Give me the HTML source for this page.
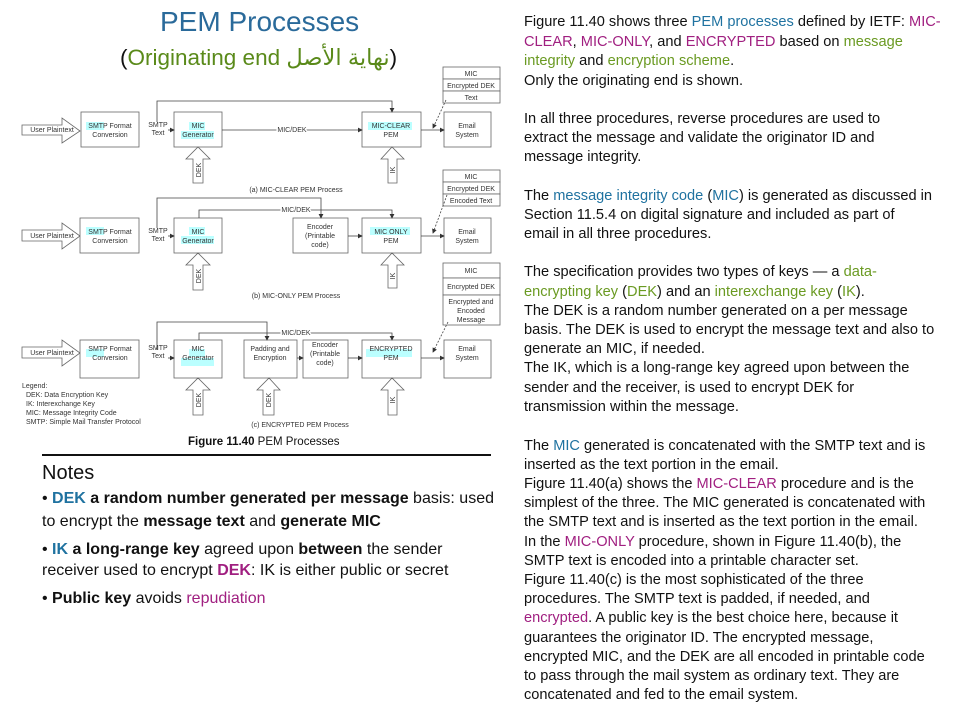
<!DOCTYPE html>
<html><head><meta charset="utf-8"><style>
body{margin:0;background:#fff;}
#p{position:relative;width:960px;height:720px;overflow:hidden;font-family:"Liberation Sans",sans-serif;color:#111;}
.r{position:absolute;left:524px;font-size:14.6px;white-space:nowrap;line-height:16px;}
.n{position:absolute;left:42px;font-size:16px;white-space:nowrap;line-height:18px;}
.b{color:#1f72a0}.m{color:#a01f80}.g{color:#6a9a22}
svg text{font-family:"Liberation Sans",sans-serif;}
</style></head><body><div id="p">
<div style="position:absolute;left:160px;top:6px;font-size:28px;color:#2a6a9a;">PEM Processes</div>
<div style="position:absolute;left:120px;top:45px;font-size:22.5px;color:#5a8a1a;font-family:'Liberation Sans','DejaVu Sans',sans-serif;white-space:nowrap;"><span style="color:#111">(</span>Originating end <span dir="rtl">نهاية الأصل</span><span style="color:#111">)</span></div>

<svg width="510" height="460" style="position:absolute;left:0;top:0" font-size="7">
<defs><marker id="a" markerWidth="6" markerHeight="6" refX="5" refY="3" orient="auto"><path d="M0,0L6,3L0,6z" fill="#333"/></marker></defs>
<g fill="#fff" stroke="#666" stroke-width="0.8">
<path d="M22,125H62V118L80,131L62,143V135H22Z"/>
<rect x="81" y="112" width="58" height="35"/><rect x="174" y="112" width="48" height="35"/>
<rect x="362" y="112" width="59" height="35"/><rect x="444" y="112" width="47" height="35"/>
<path d="M193,183V159H186L198,147L210,159H203V183Z"/><path d="M388,183V159H381L392,147L404,159H397V183Z"/>
<rect x="443" y="67" width="57" height="12"/><rect x="443" y="79" width="57" height="12"/><rect x="443" y="91" width="57" height="12"/>
<path d="M22,230H62V223L80,236L62,249V241H22Z"/>
<rect x="80" y="218" width="59" height="35"/><rect x="174" y="218" width="48" height="35"/>
<rect x="293" y="218" width="55" height="35"/><rect x="362" y="218" width="59" height="35"/><rect x="444" y="218" width="47" height="35"/>
<path d="M193,290V265H186L198,253L210,265H203V290Z"/><path d="M388,288V265H381L392,253L404,265H397V288Z"/>
<rect x="443" y="170" width="57" height="12"/><rect x="443" y="182" width="57" height="12"/><rect x="443" y="194" width="57" height="12"/>
<path d="M22,347H62V340L80,353L62,366V358H22Z"/>
<rect x="80" y="340" width="59" height="38"/><rect x="174" y="340" width="48" height="38"/>
<rect x="244" y="340" width="53" height="38"/><rect x="303" y="340" width="45" height="38"/>
<rect x="362" y="340" width="59" height="38"/><rect x="444" y="340" width="47" height="38"/>
<path d="M193,415V390H186L198,378L210,390H203V415Z"/><path d="M263,415V390H257L269,378L280,390H274V415Z"/><path d="M388,415V390H381L392,378L404,390H397V415Z"/>
<rect x="443" y="263" width="57" height="15"/><rect x="443" y="278" width="57" height="17"/><rect x="443" y="295" width="57" height="30"/>
</g>
<g fill="#bff" stroke="none">
<rect x="86" y="122" width="18" height="8"/><rect x="189" y="122" width="16" height="8"/><rect x="181" y="131" width="33" height="8"/><rect x="368" y="122" width="44" height="8"/>
<rect x="86" y="227" width="18" height="8"/><rect x="189" y="227" width="16" height="8"/><rect x="181" y="236" width="33" height="8"/><rect x="370" y="227" width="40" height="8"/>
<rect x="86" y="349" width="18" height="8"/><rect x="189" y="349" width="16" height="8"/><rect x="181" y="358" width="33" height="8"/><rect x="366" y="349" width="46" height="8"/>
</g>
<g fill="none" stroke="#444" stroke-width="0.8">
<path d="M168,130H174" marker-end="url(#a)"/><path d="M222,130H362" marker-end="url(#a)"/><path d="M421,130H444" marker-end="url(#a)"/>
<path d="M157,122V101H392V112" marker-end="url(#a)"/>
<path d="M446,100L433,128" stroke-dasharray="2,1.5" marker-end="url(#a)"/>
<path d="M168,236H174" marker-end="url(#a)"/><path d="M348,236H362" marker-end="url(#a)"/><path d="M421,236H444" marker-end="url(#a)"/>
<path d="M157,228V198H321V218" marker-end="url(#a)"/><path d="M199,218V210H392V218" marker-end="url(#a)"/>
<path d="M447,195L433,233" stroke-dasharray="2,1.5" marker-end="url(#a)"/>
<path d="M168,358H174" marker-end="url(#a)"/><path d="M297,358H303" marker-end="url(#a)"/><path d="M348,358H362" marker-end="url(#a)"/><path d="M421,358H444" marker-end="url(#a)"/>
<path d="M157,350V322H267V340" marker-end="url(#a)"/><path d="M199,340V333H392V340" marker-end="url(#a)"/>
<path d="M448,322L433,352" stroke-dasharray="2,1.5" marker-end="url(#a)"/>
</g>
<g fill="#333" text-anchor="middle">
<text x="52" y="132">User Plaintext</text><text x="110" y="128">SMTP Format</text><text x="110" y="137">Conversion</text>
<text x="158" y="127">SMTP</text><text x="158" y="135">Text</text><text x="198" y="128">MIC</text><text x="198" y="137">Generator</text>
<text x="292" y="132" style="paint-order:stroke" stroke="#fff" stroke-width="3">MIC/DEK</text>
<text x="391" y="128">MIC-CLEAR</text><text x="391" y="137">PEM</text><text x="467" y="128">Email</text><text x="467" y="137">System</text>
<text x="471" y="76">MIC</text><text x="471" y="88">Encrypted DEK</text><text x="471" y="100">Text</text>
<text x="296" y="192">(a) MIC-CLEAR PEM Process</text>
<text x="471" y="179">MIC</text><text x="471" y="191">Encrypted DEK</text><text x="471" y="203">Encoded Text</text>
<text x="52" y="238">User Plaintext</text><text x="110" y="234">SMTP Format</text><text x="110" y="243">Conversion</text>
<text x="158" y="233">SMTP</text><text x="158" y="241">Text</text><text x="198" y="234">MIC</text><text x="198" y="243">Generator</text>
<text x="296" y="212" style="paint-order:stroke" stroke="#fff" stroke-width="3">MIC/DEK</text>
<text x="320" y="229">Encoder</text><text x="320" y="238">(Printable</text><text x="320" y="247">code)</text>
<text x="391" y="234">MIC ONLY</text><text x="391" y="243">PEM</text><text x="467" y="234">Email</text><text x="467" y="243">System</text>
<text x="296" y="298">(b) MIC-ONLY PEM Process</text>
<text x="471" y="273">MIC</text><text x="471" y="289">Encrypted DEK</text><text x="471" y="304">Encrypted and</text><text x="471" y="313">Encoded</text><text x="471" y="322">Message</text>
<text x="52" y="355">User Plaintext</text><text x="110" y="351">SMTP Format</text><text x="110" y="360">Conversion</text>
<text x="158" y="350">SMTP</text><text x="158" y="358">Text</text><text x="198" y="351">MIC</text><text x="198" y="360">Generator</text>
<text x="296" y="335" style="paint-order:stroke" stroke="#fff" stroke-width="3">MIC/DEK</text>
<text x="270" y="351">Padding and</text><text x="270" y="360">Encryption</text>
<text x="325" y="347">Encoder</text><text x="325" y="356">(Printable</text><text x="325" y="365">code)</text>
<text x="391" y="351">ENCRYPTED</text><text x="391" y="360">PEM</text><text x="467" y="351">Email</text><text x="467" y="360">System</text>
<text x="300" y="427">(c) ENCRYPTED PEM Process</text>
<text transform="translate(201,170) rotate(-90)">DEK</text><text transform="translate(395,170) rotate(-90)">IK</text>
<text transform="translate(201,276) rotate(-90)">DEK</text><text transform="translate(395,276) rotate(-90)">IK</text>
<text transform="translate(201,400) rotate(-90)">DEK</text><text transform="translate(271,400) rotate(-90)">DEK</text><text transform="translate(395,400) rotate(-90)">IK</text>
</g>
<g fill="#333" font-size="7"><text x="22" y="388">Legend:</text><text x="26" y="397">DEK: Data Encryption Key</text><text x="26" y="406">IK: Interexchange Key</text><text x="26" y="415">MIC: Message Integrity Code</text><text x="26" y="424">SMTP: Simple Mail Transfer Protocol</text></g>
<text x="188" y="445" font-size="11.5" fill="#111"><tspan font-weight="bold">Figure 11.40</tspan>    PEM Processes</text>
<line x1="42" y1="455" x2="491" y2="455" stroke="#111" stroke-width="2"/>
</svg>

<div style="position:absolute;left:42px;top:462px;font-size:20px;">Notes</div>
<div class="n" style="top:490px">• <b class="b">DEK</b> <b>a random number generated per message</b> basis: used</div>
<div class="n" style="top:513px">to encrypt the <b>message text</b> and <b>generate MIC</b></div>
<div class="n" style="top:541px">• <b class="b">IK</b> <b>a long-range key</b> agreed upon <b>between</b> the sender</div>
<div class="n" style="top:562px">receiver used to encrypt <b class="m">DEK</b>: IK is either public or secret</div>
<div class="n" style="top:590px">• <b>Public key</b> avoids <span class="m">repudiation</span></div>

<div class="r" style="top:14px">Figure 11.40 shows three <span class="b">PEM processes</span> defined by IETF: <span class="m">MIC-</span></div>
<div class="r" style="top:34px"><span class="m">CLEAR</span>, <span class="m">MIC-ONLY</span>, and <span class="m">ENCRYPTED</span> based on <span class="g">message</span></div>
<div class="r" style="top:53px"><span class="g">integrity</span> and <span class="g">encryption scheme</span>.</div>
<div class="r" style="top:73px">Only the originating end is shown.</div>
<div class="r" style="top:111px">In all three procedures, reverse procedures are used to</div>
<div class="r" style="top:130px">extract the message and validate the originator ID and</div>
<div class="r" style="top:149px">message integrity.</div>
<div class="r" style="top:188px">The <span class="b">message integrity code</span> (<span class="b">MIC</span>) is generated as discussed in</div>
<div class="r" style="top:207px">Section 11.5.4 on digital signature and included as part of</div>
<div class="r" style="top:226px">email in all three procedures.</div>
<div class="r" style="top:264px">The specification provides two types of keys — a <span class="g">data-</span></div>
<div class="r" style="top:284px"><span class="g">encrypting key</span> (<span class="g">DEK</span>) and an <span class="g">interexchange key</span> (<span class="g">IK</span>).</div>
<div class="r" style="top:303px">The DEK is a random number generated on a per message</div>
<div class="r" style="top:322px">basis. The DEK is used to encrypt the message text and also to</div>
<div class="r" style="top:341px">generate an MIC, if needed.</div>
<div class="r" style="top:360px">The IK, which is a long-range key agreed upon between the</div>
<div class="r" style="top:380px">sender and the receiver, is used to encrypt DEK for</div>
<div class="r" style="top:399px">transmission within the message.</div>
<div class="r" style="top:438px">The <span class="b">MIC</span> generated is concatenated with the SMTP text and is</div>
<div class="r" style="top:457px">inserted as the text portion in the email.</div>
<div class="r" style="top:476px">Figure 11.40(a) shows the <span class="m">MIC-CLEAR</span> procedure and is the</div>
<div class="r" style="top:495px">simplest of the three. The MIC generated is concatenated with</div>
<div class="r" style="top:514px">the SMTP text and is inserted as the text portion in the email.</div>
<div class="r" style="top:534px">In the <span class="m">MIC-ONLY</span> procedure, shown in Figure 11.40(b), the</div>
<div class="r" style="top:553px">SMTP text is encoded into a printable character set.</div>
<div class="r" style="top:572px">Figure 11.40(c) is the most sophisticated of the three</div>
<div class="r" style="top:591px">procedures. The SMTP text is padded, if needed, and</div>
<div class="r" style="top:610px"><span class="m">encrypted</span>. A public key is the best choice here, because it</div>
<div class="r" style="top:630px">guarantees the originator ID. The encrypted message,</div>
<div class="r" style="top:649px">encrypted MIC, and the DEK are all encoded in printable code</div>
<div class="r" style="top:668px">to pass through the mail system as ordinary text. They are</div>
<div class="r" style="top:687px">concatenated and fed to the email system.</div>
</div></body></html>
